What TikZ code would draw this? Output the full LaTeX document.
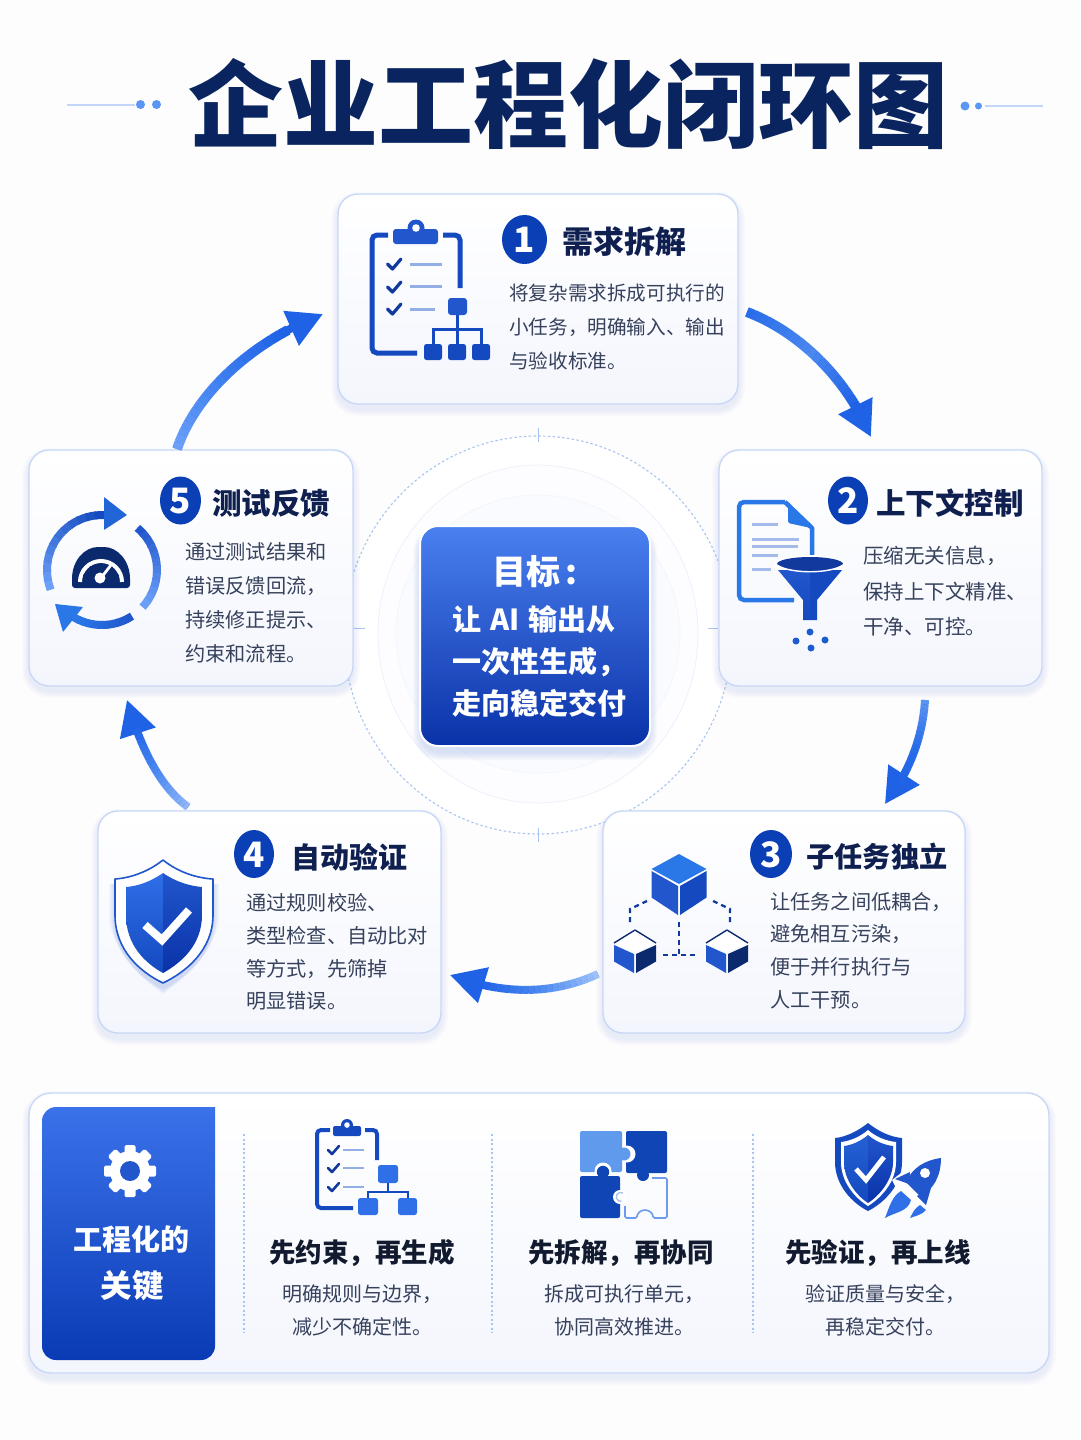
\documentclass[tikz,border=0pt]{standalone}
\usepackage{fontspec}
\setmainfont{Noto Sans CJK SC}
\newfontfamily\titlefont{Noto Sans CJK SC Black}
\usetikzlibrary{arrows.meta,bending,calc}
\definecolor{bgc}{HTML}{FDFDFE}
\definecolor{navy}{HTML}{0B2A6E}
\definecolor{titlec}{HTML}{0E1F50}
\definecolor{bodyc}{HTML}{36415C}
\definecolor{subh}{HTML}{111A2E}
\definecolor{edgec}{HTML}{C8D8F6}
\definecolor{cardlow}{HTML}{F4F6FD}
\definecolor{shad}{HTML}{6C8FDC}
\definecolor{dotc}{HTML}{A8C4F0}
\definecolor{badge}{HTML}{0A3FB5}
\definecolor{iconb}{HTML}{1449BF}
\definecolor{iconm}{HTML}{2156CC}
\definecolor{iconl}{HTML}{94AEE6}
\definecolor{iconn}{HTML}{123A9E}
\definecolor{iconsky}{HTML}{2F6FE8}
\definecolor{docc}{HTML}{2A78E8}
\definecolor{dec}{HTML}{5B96F5}
\definecolor{decl}{HTML}{C3D6FA}
\definecolor{a1a}{HTML}{2A6DE8}
\definecolor{a1b}{HTML}{4A88F0}
\definecolor{a1c}{HTML}{1F62E6}
\definecolor{a2a}{HTML}{5A94F0}
\definecolor{a3a}{HTML}{9CC0F8}
\definecolor{a4a}{HTML}{8FB5F7}
\definecolor{a5a}{HTML}{6CA0F8}
\definecolor{a5b}{HTML}{3F80F0}
\definecolor{ctop}{HTML}{4A80F0}
\definecolor{cbot}{HTML}{0A32A8}
\definecolor{ptop}{HTML}{3A72EA}
\definecolor{pbot}{HTML}{0A3BB5}
\definecolor{puzl}{HTML}{5F9AEC}
\definecolor{puzd}{HTML}{1045B5}
\tikzset{
 cardn/.style={draw=edgec,line width=1.4pt,top color=white,bottom color=cardlow,inner sep=0pt},
 bodyt/.style={text=bodyc,align=left,anchor=west,inner sep=0pt,font=\fontsize{20}{33.5}\selectfont},
 headt/.style={text=titlec,inner sep=0pt,font=\bfseries\fontsize{29.5}{34}\selectfont},
 subhead/.style={text=subh,inner sep=0pt,font=\bfseries\fontsize{26.5}{30}\selectfont},
 subbody/.style={text=bodyc,align=center,inner sep=0pt,font=\fontsize{20}{33}\selectfont},
 numb/.style={text=white,inner sep=0pt,font=\bfseries\fontsize{35}{35}\selectfont},
 badgeo/.style={fill=badge,draw=none},
 ck/.style={line width=3.2pt,draw=iconn,line cap=round,line join=round},
 ln/.style={line width=3pt,draw=iconl},
 divider/.style={draw=dotc,line width=1.2pt,dash pattern=on 2pt off 2.5pt},
 tickm/.style={draw=dotc,line width=1pt},
 dashc/.style={draw=iconn,line width=2.3pt,dash pattern=on 5pt off 4pt}
}
\newcommand{\cardbox}[6]{%
 \foreach \k in {1,...,7}{\fill[shad,opacity=.018,rounded corners={#6+\k}] ({#2-\k},{#3-\k+5}) rectangle ({#4+\k},{#5+\k+5});}
 \node[cardn,rounded corners=#6,minimum width={#4-#2},minimum height={#5-#3}] (#1) at ({(#2+#4)/2},{(#3+#5)/2}) {};}
\newcommand{\flowarrow}[9]{%
 \draw[line width={#6-2},draw=#9,-{Triangle[length=35pt,width=36pt]}] #2 .. controls #3 and #4 .. #5;
 \path #2 .. controls #3 and #4 .. #5 foreach \i in {0,...,20}{ coordinate[pos=\i/24] (#1-\i) };
 \foreach \i in {0,...,19}{
  \pgfmathtruncatemacro\j{\i+1}
  \ifnum\i<10 \pgfmathtruncatemacro\p{100-\i*100/10}\draw[line width=#6,draw={#7!\p!#8}] (#1-\i) -- (#1-\j);
  \else \pgfmathtruncatemacro\p{100-(\i-10)*100/9}\draw[line width=#6,draw={#8!\p!#9}] (#1-\i) -- (#1-\j);\fi}}
\newcommand{\gradarc}[8]{%
 \foreach \k in {0,...,11}{
  \pgfmathsetmacro\s{#4+(#5-#4)*\k/12}
  \pgfmathsetmacro\e{#4+(#5-#4)*(\k+1.2)/12}
  \pgfmathtruncatemacro\p{100-100*\k/11}
  \draw[line width=#8,draw={#6!\p!#7}] ({#1+#3*cos(\s)},{#2+#3*sin(\s)}) arc[start angle=\s,end angle=\e,radius=#3];}}
\newcommand{\cubeic}[9]{%
 \fill[#7] (#1,#2) -- ({#1+#3},{#2+#4}) -- (#1,{#2+#5}) -- ({#1-#3},{#2+#4}) -- cycle;
 \fill[#8] ({#1-#3},{#2+#4+2}) -- ({#1-1},{#2+#5+2}) -- ({#1-1},{#2+#5+#6}) -- ({#1-#3},{#2+#4+#6-2.5}) -- cycle;
 \fill[#9] ({#1+#3},{#2+#4+2}) -- ({#1+1},{#2+#5+2}) -- ({#1+1},{#2+#5+#6}) -- ({#1+#3},{#2+#4+#6-2.5}) -- cycle;}
\begin{document}
\begin{tikzpicture}[x=1pt,y=-1pt]
\useasboundingbox (0,0) rectangle (1080,1440);
\fill[bgc] (0,0) rectangle (1080,1440);
% title
\node[text=navy!85!black,inner sep=0pt,font=\titlefont\fontsize{95}{100}\selectfont] (maintitle) at (568.5,104) {企业工程化闭环图};
\coordinate (dl0) at (67,104.5); \coordinate (dl1) at (135,104.5);
\coordinate (dr0) at (985,106); \coordinate (dr1) at (1043,106);
\draw[decl,line width=2pt] (dl0) -- (dl1);
\draw[decl,line width=2pt] (dr0) -- (dr1);
\fill[dec] (140.5,104.5) circle (4.5);
\fill[dec] (156.5,104.5) circle (4.5);
\fill[dec] (965,106) circle (4.5);
\fill[dec] (978.5,106) circle (3.5);
% centre rings
\fill[white] (538,635) ellipse [x radius=194,y radius=199];
\draw[dotc,line width=1.1pt,dash pattern=on 2.4pt off 2.4pt] (538,635) ellipse [x radius=194,y radius=199];
\draw[tickm] (538,428) -- (538,442);
\draw[tickm] (538,828) -- (538,842);
\draw[tickm] (352,628) -- (365,628);
\draw[tickm] (708,628) -- (718,628);
\filldraw[fill=cardlow!20!white,draw=edgec!35!white,line width=.8pt] (538,634) ellipse [x radius=160,y radius=169];
\filldraw[fill=cardlow!45!white,draw=edgec!22!white,line width=.8pt] (538,634) ellipse [x radius=142,y radius=139];
% cards
\cardbox{c1}{338}{194}{738}{404}{20}
\cardbox{c2}{719}{450}{1042}{686}{20}
\cardbox{c5}{29}{450}{353}{686}{20}
\cardbox{c3}{603}{811}{965}{1033}{20}
\cardbox{c4}{98}{811}{441}{1033}{20}
% centre card
\foreach \k in {1,...,8}{\fill[shad,opacity=.03,rounded corners={18+\k}] ({421-\k},{527-\k+7}) rectangle ({649+\k},{745+\k+7});}
\node[draw=white,line width=2pt,rounded corners=18,top color=ctop,bottom color=cbot,minimum width=230,minimum height=220,inner sep=0pt] (goal) at (535,636) {};
\node[text=white,inner sep=0pt,font=\bfseries\fontsize{34}{38}\selectfont] (goalh) at (535,572) {目标\hspace{5pt}:};
\node[text=white,inner sep=0pt,align=left,anchor=west,font=\bfseries\fontsize{29}{42}\selectfont] (goalt) at (452,661) {让\hspace{9pt}AI\hspace{9pt}输出从\\一次性生成，\\走向稳定交付};
% flow arrows
\coordinate (a1s) at (747,312); \coordinate (a1p) at (800,332); \coordinate (a1q) at (848,380); \coordinate (a1e) at (871,437);
\coordinate (a2s) at (925,700); \coordinate (a2p) at (923,735); \coordinate (a2q) at (910,772); \coordinate (a2e) at (885,804);
\coordinate (a3s) at (598,974); \coordinate (a3p) at (555,994); \coordinate (a3q) at (505,996); \coordinate (a3e) at (450,975);
\coordinate (a4s) at (188,807); \coordinate (a4p) at (160,787); \coordinate (a4q) at (140,747); \coordinate (a4e) at (127,700);
\coordinate (a5s) at (177,449); \coordinate (a5p) at (195,395); \coordinate (a5q) at (250,342); \coordinate (a5e) at (323,314);
\flowarrow{af1}{(a1s)}{(a1p)}{(a1q)}{(a1e)}{10}{a1a}{a1b}{a1c}
\flowarrow{af2}{(a2s)}{(a2p)}{(a2q)}{(a2e)}{8}{a2a}{a1a}{a1c}
\flowarrow{af3}{(a3s)}{(a3p)}{(a3q)}{(a3e)}{8}{a3a}{a1b}{a1c}
\flowarrow{af4}{(a4s)}{(a4p)}{(a4q)}{(a4e)}{8}{a4a}{a1b}{a1c}
\flowarrow{af5}{(a5s)}{(a5p)}{(a5q)}{(a5e)}{10}{a5a}{a5b}{a1c}
% badges
\fill[badgeo] (524.5,239.5) ellipse [x radius=22.5,y radius=24.5];
\fill[badgeo] (848,500.5) ellipse [x radius=20,y radius=24];
\fill[badgeo] (180.5,500.5) ellipse [x radius=20.5,y radius=24];
\fill[badgeo] (771,854) ellipse [x radius=21,y radius=24];
\fill[badgeo] (254,854) ellipse [x radius=20,y radius=24];
\node[numb] (n1) at (524.5,240) {1};
\node[numb] (n2) at (848,501) {2};
\node[numb] (n5) at (180.5,501) {5};
\node[numb] (n3) at (771,855) {3};
\node[numb] (n4) at (254,855) {4};
% headings
\node[headt,font=\bfseries\fontsize{31}{34}\selectfont] (h1) at (624,242) {需求拆解};
\node[headt] (h2) at (950,503) {上下文控制};
\node[headt] (h5) at (271,503) {测试反馈};
\node[headt,font=\bfseries\fontsize{28.2}{34}\selectfont] (h3) at (877,857) {子任务独立};
\node[headt,font=\bfseries\fontsize{29}{34}\selectfont] (h4) at (349.5,857) {自动验证};
% body text
\node[bodyt,font=\fontsize{19.6}{34}\selectfont] (b1) at (509,327) {将复杂需求拆成可执行的\\小任务，明确输入、输出\\与验收标准。};
\node[bodyt,font=\fontsize{20.5}{35.5}\selectfont] (b2) at (863,591.5) {压缩无关信息，\\保持上下文精准、\\干净、可控。};
\node[bodyt,font=\fontsize{20.2}{34}\selectfont] (b5) at (185,603) {通过测试结果和\\错误反馈回流，\\持续修正提示、\\约束和流程。};
\node[bodyt,font=\fontsize{20.2}{32.7}\selectfont] (b3) at (770,950.5) {让任务之间低耦合，\\避免相互污染，\\便于并行执行与\\人工干预。};
\node[bodyt,font=\fontsize{20.2}{32.7}\selectfont] (b4) at (246,952) {通过规则校验、\\类型检查、自动比对\\等方式，先筛掉\\明显错误。};
% icon 1: clipboard and tree
\draw[iconb,line width=5pt,rounded corners=5] (388,235) -- (372,235) -- (372,353) -- (417,353);
\draw[iconb,line width=5pt,rounded corners=5] (443,235) -- (460,235) -- (460,288);
\fill[iconm] (416,228) circle (8.5);
\fill[iconm,rounded corners=3] (393,229) rectangle (438,244);
\fill[white] (416,228) circle (3.8);
\foreach \yy in {264,287,309}{\draw[ck] (387.5,\yy) -- (392.5,{\yy+5}) -- (401,{\yy-5});}
\draw[ln] (410,264) -- (442,264);
\draw[ln] (410,286) -- (442,286);
\draw[ln] (410,309) -- (435,309);
\fill[iconm,rounded corners=3] (448,298) rectangle (467,315);
\draw[iconb,line width=3pt] (457.5,315) -- (457.5,345);
\draw[iconb,line width=3pt] (433.5,345) -- (433.5,329) -- (481,329) -- (481,345);
\fill[iconb,rounded corners=2.5] (424,344) rectangle (442,360);
\fill[iconb,rounded corners=2.5] (448,344) rectangle (466,360);
\fill[iconb,rounded corners=2.5] (472,344) rectangle (490,360);
% icon 2: document and funnel
\draw[docc,line width=4.5pt,rounded corners=5] (794,600) -- (739,600) -- (739,502) -- (785,502);
\draw[docc,line width=4.5pt,line join=round] (785,502) -- (812,528) -- (812,555);
\fill[docc,rounded corners=1.5] (788,502) -- (788,523) -- (811,528) -- cycle;
\draw[ln,draw=iconl!85!white] (752,524) -- (778,524);
\draw[ln,draw=iconl!85!white] (752,539) -- (799,539);
\draw[ln,draw=iconl!85!white] (752,546) -- (798,546);
\draw[ln,draw=iconl!85!white] (752,555) -- (778,555);
\draw[ln,draw=iconl!85!white] (752,569) -- (771,569);
\fill[white] (810,566) ellipse [x radius=36,y radius=11];
\shade[top color=iconm,bottom color=iconb] (778,570) -- (810,570) -- (810,620) -- (803,620) -- (803,600) -- cycle;
\fill[iconb] (842,570) -- (810,570) -- (810,620) -- (817,620) -- (817,600) -- cycle;
\fill[iconn] (810,564) ellipse [x radius=33,y radius=7];
\draw[white,line width=1.4pt] (777,565) .. controls (790,574) and (830,574) .. (843,565);
\foreach \px/\py in {810/632,796/641,825/640,811/648}{\fill[docc!40!iconb] (\px,\py) circle (3.5);}
% icon 5: recycle with gauge
\gradarc{102}{570}{55}{159}{272}{a5a}{iconb}{8}
\gradarc{102}{570}{55}{310}{401}{iconm}{a5a}{8}
\gradarc{102}{570}{55}{57}{120}{iconm}{docc}{8}
\fill[docc!60!iconb,rounded corners=.5] (104,497) -- (127,515) -- (104,530) -- cycle;
\fill[docc,rounded corners=.5] (55,604) -- (83,607) -- (63,632) -- cycle;
\fill[navy,rounded corners=3] (72,582) .. controls (72,560) and (85,547) .. (101,547) .. controls (117,547) and (130,560) .. (130,582) -- (130,588) -- (72,588) -- cycle;
\draw[white,line width=4pt] (80,582) arc[start angle=180,end angle=360,radius=21];
\foreach \a in {200,235,270,305,340}{\draw[navy,line width=2.2pt] ({101+19*cos(\a)},{582+19*sin(\a)}) -- ({101+15*cos(\a)},{582+15*sin(\a)});}
\draw[white,line width=2.8pt] (101,578) -- (111,565);
\fill[white] (100,578) circle (5.5);
% icon 3: cubes
\draw[dashc] (647,901) -- (630,909) -- (630,925);
\draw[dashc] (713,901) -- (730,909) -- (730,925);
\draw[dashc] (679,922) -- (679,955);
\draw[dashc] (663,955) -- (697,955);
\cubeic{679}{854}{27.5}{15}{30}{31}{docc}{iconm}{iconb}
\cubeic{635}{930}{21}{13}{22}{21}{white}{iconm}{navy}
\cubeic{727}{930}{21}{13}{22}{21}{white}{iconm}{navy}
\draw[navy,line width=1.4pt,line join=round] (635,930) -- (656,943);
\draw[navy,line width=1.4pt,line join=round] (635,930) -- (614,943);
\draw[navy,line width=1.4pt,line join=round] (727,930) -- (748,943);
\draw[navy,line width=1.4pt,line join=round] (727,930) -- (706,943);
% icon 4: shield
\foreach \k in {1,...,6}{\fill[shad,opacity=.05] (163,{860+5}) .. controls (148,{872+5}) and (130,{878+5}) .. ({115-\k},{879+5}) -- ({115-\k},{915+5}) .. controls (115,{950+5}) and (140,{972+5}) .. (163,{983+5+\k}) .. controls (186,{972+5}) and (213,{950+5}) .. ({213+\k},{915+5}) -- ({213+\k},{879+5}) .. controls (196,{878+5}) and (178,{872+5}) .. (163,{860+5}) -- cycle;}
\filldraw[fill=white,draw=iconm,line width=1.6pt,line join=round] (163,860) .. controls (148,872) and (130,878) .. (115,879) -- (115,915) .. controls (115,950) and (140,972) .. (163,983) .. controls (186,972) and (213,950) .. (213,915) -- (213,879) .. controls (196,878) and (178,872) .. (163,860) -- cycle;
\shade[top color=iconsky,bottom color=iconb] (163,873) .. controls (150,882) and (138,886) .. (126,887) -- (126,915) .. controls (126,945) and (145,963) .. (163,973) -- cycle;
\shade[top color=iconm,bottom color=cbot] (163,873) .. controls (176,882) and (190,886) .. (202,887) -- (202,915) .. controls (202,945) and (181,963) .. (163,973) -- cycle;
\draw[white,line width=8pt] (145,925) -- (162,940) -- (189,910);
% bottom panel
\cardbox{panel}{29}{1093}{1049}{1373}{22}
\shade[top color=ptop,bottom color=pbot,rounded corners=14] (215,1107) -- (42,1107) -- (42,1360) -- (215,1360) [sharp corners] -- (215,1107) -- cycle;
\foreach \a in {0,45,90,135}{\fill[white,shift={(130,1171)},rotate=\a,rounded corners=1.5] (-5.5,-26) rectangle (5.5,26);}
\fill[white] (130,1171) circle (20);
\fill[iconm] (130,1171) circle (10);
\node[text=white,inner sep=0pt,font=\bfseries\fontsize{29}{30}\selectfont] (ptitle1) at (131,1239) {工程化的};
\node[text=white,inner sep=0pt,font=\bfseries\fontsize{31.5}{32}\selectfont] (ptitle2) at (132,1286) {关键};
\coordinate (d1a) at (244,1134); \coordinate (d1b) at (244,1333);
\coordinate (d2a) at (492,1134); \coordinate (d2b) at (492,1333);
\coordinate (d3a) at (753,1134); \coordinate (d3b) at (753,1333);
\draw[divider] (d1a) -- (d1b);
\draw[divider] (d2a) -- (d2b);
\draw[divider] (d3a) -- (d3b);
% small clipboard
\draw[iconb,line width=4pt,rounded corners=4] (330,1130) -- (317,1130) -- (317,1208) -- (353,1208);
\draw[iconb,line width=4pt,rounded corners=4] (365,1130) -- (377,1130) -- (377,1160);
\fill[iconb] (347,1125) circle (6);
\fill[iconb,rounded corners=2] (333,1126) rectangle (361,1136);
\fill[white] (347,1125) circle (2.8);
\foreach \yy in {1150,1168,1187}{\draw[ck,line width=2.6pt] (328,\yy) -- (332,{\yy+4}) -- (339,{\yy-4});}
\draw[ln,line width=2.2pt] (343,1150) -- (364,1150);
\draw[ln,line width=2.2pt] (343,1168) -- (364,1168);
\draw[ln,line width=2.2pt] (343,1187) -- (364,1187);
\fill[iconsky,rounded corners=2.5] (378,1165) rectangle (398,1183);
\draw[iconb,line width=2.5pt] (388,1183) -- (388,1192);
\draw[iconb,line width=2.5pt] (368,1199) -- (368,1192) -- (408,1192) -- (408,1199);
\fill[iconsky,rounded corners=2.5] (358,1198) rectangle (378,1215);
\fill[iconsky,rounded corners=2.5] (398,1198) rectangle (417,1215);
\node[subhead] (k1) at (362,1253) {先约束，再生成};
\node[subbody] (s1) at (362,1310.5) {明确规则与边界，\\减少不确定性。};
% puzzle
\fill[puzd,rounded corners=2] (626,1131) rectangle (667,1173);
\fill[white] (627,1154) circle (8.5);
\fill[puzl,rounded corners=2] (580,1131) rectangle (622,1172);
\fill[puzl] (624,1154) circle (6.5);
\fill[puzd] (643,1175) circle (6);
\fill[white] (603,1171) circle (8.5);
\fill[puzd,rounded corners=2] (580,1176) rectangle (620,1218);
\fill[puzd] (603,1172) circle (6.2);
\fill[white] (620,1197) circle (7);
\draw[dotc,line width=1.4pt] (623,1193) arc[start angle=-60,end angle=-280,radius=4.5];
\draw[iconsky!70!white,line width=1.6pt,rounded corners=1.5] (652,1178) -- (667,1178) -- (667,1218) -- (653,1218) arc[start angle=0,end angle=-180,radius=8] -- (625,1218) -- (625,1206);
\node[subhead] (k2) at (621,1253) {先拆解，再协同};
\node[subbody] (s2) at (624,1310.5) {拆成可执行单元，\\协同高效推进。};
% shield and rocket
\fill[iconb] (868,1123) .. controls (858,1131) and (846,1137) .. (835,1138) -- (835,1162) .. controls (835,1185) and (852,1203) .. (868,1211) .. controls (884,1203) and (902,1185) .. (902,1162) -- (902,1138) .. controls (890,1137) and (878,1131) .. (868,1123) -- cycle;
\fill[white] (868,1130) .. controls (860,1137) and (850,1141) .. (841,1142) -- (841,1162) .. controls (841,1182) and (855,1198) .. (868,1206) .. controls (881,1198) and (896,1182) .. (896,1162) -- (896,1142) .. controls (886,1141) and (876,1137) .. (868,1130) -- cycle;
\shade[top color=iconm!70!docc,bottom color=iconb] (868,1135) .. controls (861,1141) and (852,1145) .. (844,1146) -- (844,1162) .. controls (844,1180) and (857,1196) .. (868,1203) -- cycle;
\shade[top color=iconm,bottom color=cbot] (868,1135) .. controls (875,1141) and (884,1145) .. (893,1146) -- (893,1162) .. controls (893,1180) and (879,1196) .. (868,1203) -- cycle;
\draw[white,line width=4.8pt] (856,1169) -- (866,1180) -- (884,1157);
\fill[white] (941,1155) -- (905,1170) -- (892,1180) -- (897,1190) -- (920,1203) -- (935,1185) -- cycle;
\fill[iconm] (941,1158) .. controls (925,1160) and (912,1168) .. (906,1182) -- (920,1196) .. controls (934,1190) and (941,1175) .. (941,1158) -- cycle;
\fill[iconm] (910,1172) -- (895,1179) -- (909,1184) -- cycle;
\fill[iconm] (931,1188) -- (926,1205) -- (917,1196) -- cycle;
\fill[white] (925,1173) circle (5);
\fill[iconsky] (901,1191) -- (911,1200) .. controls (908,1212) and (895,1212) .. (885,1218) .. controls (889,1208) and (892,1196) .. (901,1191) -- cycle;
\fill[iconsky] (920,1205) -- (926,1210) .. controls (922,1215) and (915,1216) .. (910,1218) .. controls (913,1212) and (915,1208) .. (920,1205) -- cycle;
\node[subhead] (k3) at (878,1253) {先验证，再上线};
\node[subbody] (s3) at (885,1310.5) {验证质量与安全，\\再稳定交付。};
\end{tikzpicture}
\end{document}
